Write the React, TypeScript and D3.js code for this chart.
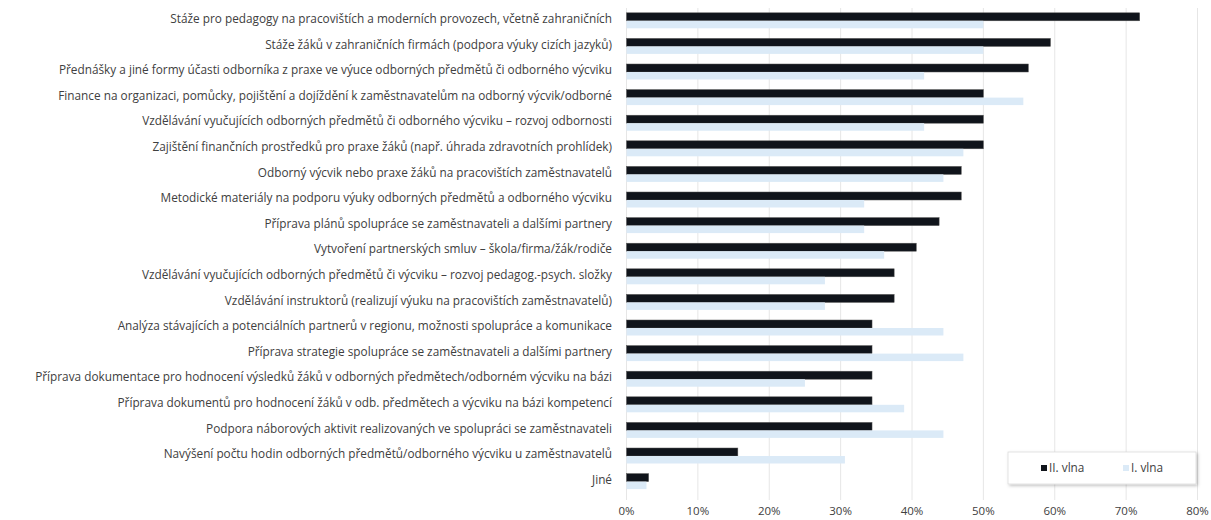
import React from 'react'
import * as d3 from 'd3'

const categories = [
    'Stáže pro pedagogy na pracovištích a moderních provozech, včetně zahraničních',
    'Stáže žáků v zahraničních firmách (podpora výuky cizích jazyků)',
    'Přednášky a jiné formy účasti odborníka z praxe ve výuce odborných předmětů či odborného výcviku',
    'Finance na organizaci, pomůcky, pojištění a dojíždění k zaměstnavatelům na odborný výcvik/odborné',
    'Vzdělávání vyučujících odborných předmětů či odborného výcviku – rozvoj odbornosti',
    'Zajištění finančních prostředků pro praxe žáků (např. úhrada zdravotních prohlídek)',
    'Odborný výcvik nebo praxe žáků na pracovištích zaměstnavatelů',
    'Metodické materiály na podporu výuky odborných předmětů a odborného výcviku',
    'Příprava plánů spolupráce se zaměstnavateli a dalšími partnery',
    'Vytvoření partnerských smluv – škola/firma/žák/rodiče',
    'Vzdělávání vyučujících odborných předmětů či výcviku – rozvoj pedagog.-psych. složky',
    'Vzdělávání instruktorů (realizují výuku na pracovištích zaměstnavatelů)',
    'Analýza stávajících a potenciálních partnerů v regionu, možnosti spolupráce a komunikace',
    'Příprava strategie spolupráce se zaměstnavateli a dalšími partnery',
    'Příprava dokumentace pro hodnocení výsledků žáků v odborných předmětech/odborném výcviku na bázi',
    'Příprava dokumentů pro hodnocení žáků v odb. předmětech a výcviku na bázi kompetencí',
    'Podpora náborových aktivit realizovaných ve spolupráci se zaměstnavateli',
    'Navýšení počtu hodin odborných předmětů/odborného výcviku u zaměstnavatelů',
    'Jiné',
]

// II. vlna (dark bars), in %
const wave2 = [71.9, 59.4, 56.3, 50.0, 50.0, 50.0, 46.9, 46.9, 43.8, 40.6, 37.5, 37.5, 34.4, 34.4, 34.4, 34.4, 34.4, 15.6, 3.1]
// I. vlna (light bars), in %
const wave1 = [50.0, 50.0, 41.7, 55.6, 41.7, 47.2, 44.4, 33.3, 33.3, 36.1, 27.8, 27.8, 44.4, 47.2, 25.0, 38.9, 44.4, 30.6, 2.8]

const xTicks = [0, 10, 20, 30, 40, 50, 60, 70, 80]
const seriesNames = ['II. vlna', 'I. vlna']

const darkColor = '#10141b'
const lightColor = '#dbeaf7'
const textColor = '#404040'
const font = '"Open Sans", sans-serif'

const App = () => {
    const width = 1211
    const height = 520

    const x = d3.scaleLinear().domain([0, 80]).range([626.5, 1197.5])
    const y = d3.scaleBand<string>().domain(categories).range([8, 494.4]).padding(0)

    const barH = 8

    return (
        <svg width={width} height={height}
             style={{ position: 'absolute', left: 0, top: 0, background: '#fff' }}>
            <defs>
                <filter id="shadow" x="-10%" y="-20%" width="130%" height="160%">
                    <feDropShadow dx="1.5" dy="1.5" stdDeviation="1.5" floodColor="#000" floodOpacity="0.25" />
                </filter>
            </defs>

            {/* gridlines */}
            {xTicks.map(t => (
                <line key={`grid-${t}`} x1={x(t)} x2={x(t)} y1={8} y2={500}
                      stroke="#e6e6e6" strokeWidth={1} />
            ))}

            {/* bars */}
            {categories.map((c, i) => {
                const mid = (y(c) as number) + y.bandwidth() / 2
                return (
                    <g key={`bars-${i}`}>
                        <rect x={x(0)} y={mid - barH} width={x(wave2[i]) - x(0)} height={barH}
                              fill={darkColor} stroke="#555" strokeWidth={0.5} />
                        <rect x={x(0)} y={mid} width={x(wave1[i]) - x(0)} height={barH - 0.5}
                              fill={lightColor} />
                    </g>
                )
            })}

            {/* category labels */}
            {categories.map((c, i) => (
                <text key={`lab-${i}`} x={612} y={(y(c) as number) + y.bandwidth() / 2 - 1}
                      textAnchor="end" dominantBaseline="middle"
                      fontFamily={font} fontSize={11.8} fill={textColor}>{c}</text>
            ))}

            {/* x tick labels */}
            {xTicks.map(t => (
                <text key={`tick-${t}`} x={x(t)} y={512} textAnchor="middle" dominantBaseline="middle"
                      fontFamily={font} fontSize={11.5} fill={textColor}>{`${t}%`}</text>
            ))}

            {/* legend */}
            <g>
                <rect x={1008} y={452} width={188} height={32} fill="#fff"
                      stroke="#d9d9d9" strokeWidth={0.75} filter="url(#shadow)" />
                <rect x={1041} y={465} width={6} height={6} fill={darkColor} />
                <text x={1049} y={468.5} dominantBaseline="middle" fontFamily={font}
                      fontSize={11.8} fill={textColor}>{seriesNames[0]}</text>
                <rect x={1123} y={465} width={6} height={6} fill={lightColor} />
                <text x={1131} y={468.5} dominantBaseline="middle" fontFamily={font}
                      fontSize={11.8} fill={textColor}>{seriesNames[1]}</text>
            </g>
        </svg>
    )
}

export default App
